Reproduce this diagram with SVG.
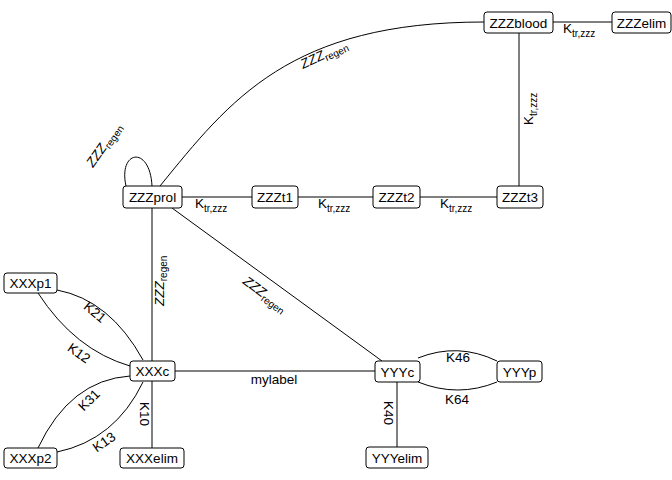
<svg xmlns="http://www.w3.org/2000/svg" width="672" height="480" viewBox="0 0 672 480">
<style>
.box{fill:#fff;stroke:#000;stroke-width:1}
.nt{font-family:"Liberation Sans",Arial,sans-serif;font-size:13.5px;fill:#000;text-anchor:middle}
.lb{font-family:"Liberation Sans",Arial,sans-serif;font-size:13.5px;fill:#000}
.sub{font-size:10px}
.it{font-style:italic}
.e{fill:none;stroke:#000;stroke-width:1}
</style>
<rect width="672" height="480" fill="#fff"/>
<g id="connectors">
<path class="e" d="M182,197H252"/>
<path class="e" d="M298,197H373"/>
<path class="e" d="M420,197H497"/>
<path class="e" d="M519,33V186"/>
<path class="e" d="M553,22H612"/>
<path class="e" d="M160,186C230,100 290,22 484,22"/>
<path class="e" d="M126,186C118,150 150,145 152,186"/>
<path class="e" d="M152,208V361"/>
<path class="e" d="M172,208L382,361"/>
<path class="e" d="M175,371H375"/>
<path class="e" d="M152,381V448"/>
<path class="e" d="M397,382V447"/>
<path class="e" d="M418,358Q458,342 497,361"/>
<path class="e" d="M418,382Q458,398 497,382"/>
<path class="e" d="M57,290Q110,300 143,360"/>
<path class="e" d="M38,293Q75,350 130,366"/>
<path class="e" d="M38,448Q70,380 130,376"/>
<path class="e" d="M57,452Q115,440 143,382"/>
<text class="lb" x="195" y="208">K<tspan class="sub" dy="4">tr,zzz</tspan></text>
<text class="lb" x="318" y="208">K<tspan class="sub" dy="4">tr,zzz</tspan></text>
<text class="lb" x="440" y="208">K<tspan class="sub" dy="4">tr,zzz</tspan></text>
<text class="lb" x="563" y="33">K<tspan class="sub" dy="4">tr,zzz</tspan></text>
<text class="lb" transform="translate(533,125) rotate(-90)">K<tspan class="sub" dy="4">tr,zzz</tspan></text>
<text class="lb" transform="translate(303,69) rotate(-25)"><tspan class="it">ZZZ</tspan><tspan class="sub" dy="3">regen</tspan></text>
<text class="lb" transform="translate(93,168) rotate(-55)"><tspan class="it">ZZZ</tspan><tspan class="sub" dy="3">regen</tspan></text>
<text class="lb" transform="translate(164,306) rotate(-90)"><tspan class="it">ZZZ</tspan><tspan class="sub" dy="3">regen</tspan></text>
<text class="lb" transform="translate(242,283) rotate(36)"><tspan class="it">ZZZ</tspan><tspan class="sub" dy="3">regen</tspan></text>
<text class="nt" x="274" y="384">mylabel</text>
<text class="nt" transform="translate(95,312) rotate(40)" dy="0.35em">K21</text>
<text class="nt" transform="translate(79,353) rotate(35)" dy="0.35em">K12</text>
<text class="nt" transform="translate(89,400) rotate(-45)" dy="0.35em">K31</text>
<text class="nt" transform="translate(104,442) rotate(-35)" dy="0.35em">K13</text>
<text class="nt" transform="translate(145,414) rotate(90)" dy="0.35em">K10</text>
<text class="nt" transform="translate(389,413) rotate(90)" dy="0.35em">K40</text>
<text class="nt" x="458" y="362">K46</text>
<text class="nt" x="457" y="404">K64</text>
</g>
<g id="ZZZprol"><rect class="box" x="123" y="186" width="59" height="22" rx="3"/><text class="nt" x="152.5" y="202">ZZZprol</text></g>
<g id="ZZZt1"><rect class="box" x="252" y="186" width="46" height="22" rx="3"/><text class="nt" x="275" y="202">ZZZt1</text></g>
<g id="ZZZt2"><rect class="box" x="373" y="186" width="47" height="22" rx="3"/><text class="nt" x="396.5" y="202">ZZZt2</text></g>
<g id="ZZZt3"><rect class="box" x="497" y="186" width="46" height="22" rx="3"/><text class="nt" x="520" y="202">ZZZt3</text></g>
<g id="ZZZblood"><rect class="box" x="484" y="12" width="69" height="21" rx="3"/><text class="nt" x="518.5" y="27.5">ZZZblood</text></g>
<g id="ZZZelim"><rect class="box" x="612" y="12" width="59" height="21" rx="3"/><text class="nt" x="641.5" y="27.5">ZZZelim</text></g>
<g id="XXXp1"><rect class="box" x="4" y="273" width="53" height="20" rx="3"/><text class="nt" x="30.5" y="288">XXXp1</text></g>
<g id="XXXc"><rect class="box" x="130" y="361" width="45" height="20" rx="3"/><text class="nt" x="152.5" y="376">XXXc</text></g>
<g id="XXXp2"><rect class="box" x="4" y="448" width="53" height="20" rx="3"/><text class="nt" x="30.5" y="463">XXXp2</text></g>
<g id="XXXelim"><rect class="box" x="120" y="448" width="64" height="20" rx="3"/><text class="nt" x="152" y="463">XXXelim</text></g>
<g id="YYYc"><rect class="box" x="375" y="361" width="45" height="21" rx="3"/><text class="nt" x="397.5" y="376.5">YYYc</text></g>
<g id="YYYp"><rect class="box" x="497" y="361" width="45" height="21" rx="3"/><text class="nt" x="519.5" y="376.5">YYYp</text></g>
<g id="YYYelim"><rect class="box" x="366" y="447" width="62" height="21" rx="3"/><text class="nt" x="397" y="462.5">YYYelim</text></g>
</svg>
